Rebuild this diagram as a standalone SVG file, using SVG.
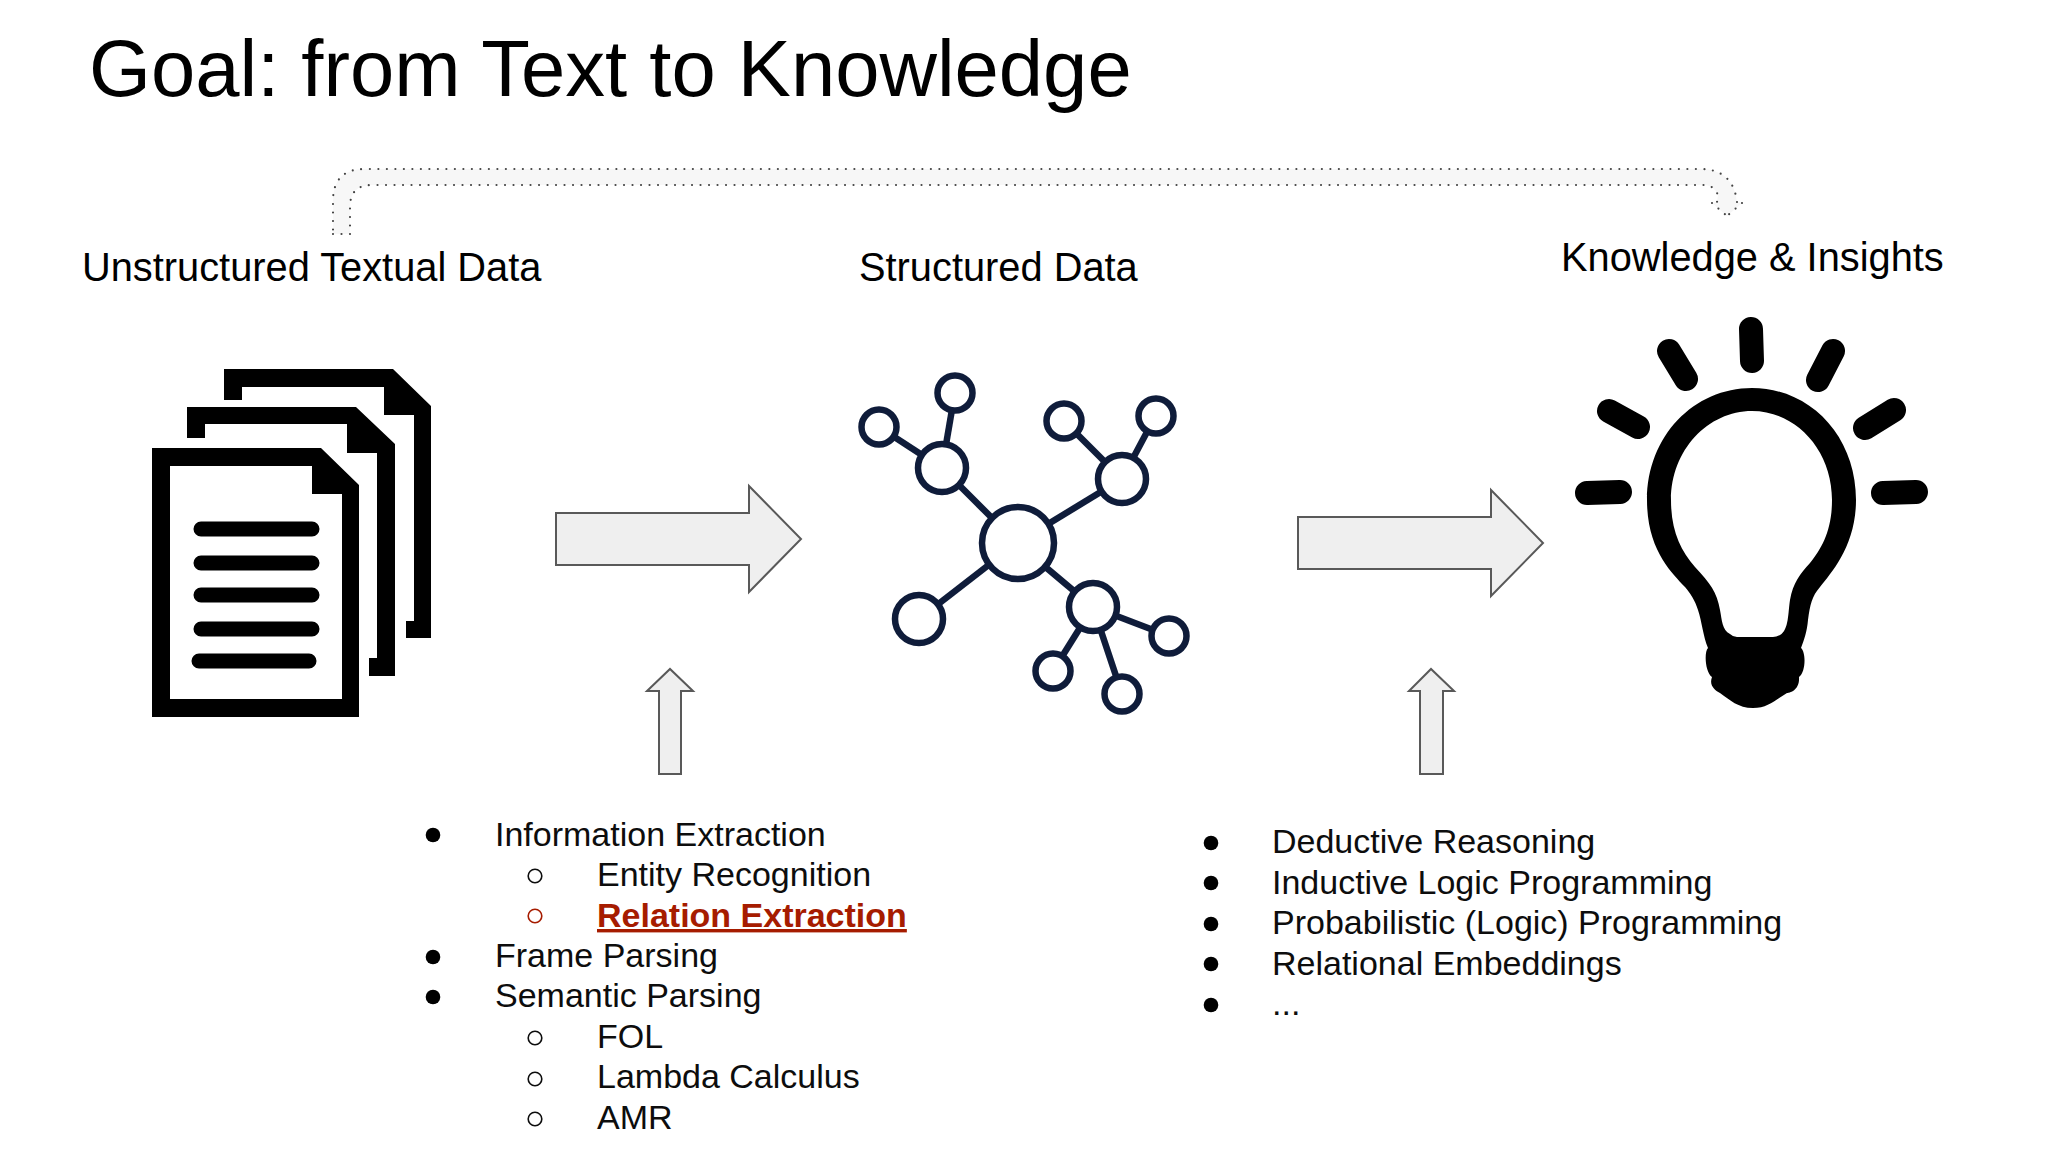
<svg xmlns="http://www.w3.org/2000/svg" width="2048" height="1152" viewBox="0 0 2048 1152">
<style>
text{font-family:"Liberation Sans",Arial,sans-serif;fill:#000}
.t{font-size:79.6px}
.h{font-size:39.8px}
.l{font-size:34px;fill:#0d0d0d}
.red{fill:#a61c00;font-weight:bold;text-decoration:underline}
.arrow{fill:#efefef;stroke:#595959;stroke-width:2;stroke-linejoin:miter}
.net circle{fill:#fff;stroke:#0f1c3a;stroke-width:6.5}
.net line{stroke:#0f1c3a;stroke-width:6.5}
.ray{stroke:#000;stroke-width:24;stroke-linecap:round}
.doc{stroke:#000;stroke-width:15;stroke-linecap:round}
.b{fill:#000}
.o{fill:none;stroke:#0d0d0d;stroke-width:1.6}
.dots{fill:none;stroke:#444;stroke-width:2.2;stroke-linecap:round;stroke-dasharray:0 8.5}
</style>
<rect width="2048" height="1152" fill="#fff"/>
<text class="t" x="89" y="96">Goal: from Text to Knowledge</text>
<g id="connectors">
<path d="M333 234H350V207Q350 185 372 185H1706Q1714 186 1718 195L1717 202L1712 203L1727 216L1742 203L1737 202Q1733 169 1700 169H365Q333 169 333 201Z" fill="#f7f7f7"/>
<path class="dots" d="M333 234H350V207Q350 185 372 185H1706Q1714 186 1718 195L1717 202M1712 203L1727 216M1742 203L1727 216M1737 202Q1733 169 1700 169H365Q333 169 333 201V234"/>
<path class="arrow" d="M556 513H749V486L801 539L749 592V565H556Z"/>
<path class="arrow" d="M1298 517H1491V490L1543 543L1491 596V569H1298Z"/>
<path class="arrow" d="M659 774V691H647L670 669L693 691H681V774Z"/>
<path class="arrow" d="M1420 774V691H1409L1431 669L1454 691H1443V774Z"/>
</g>
<g id="node-unstructured">
<text class="h" x="82" y="281">Unstructured Textual Data</text>
<path d="M224 369H393L431 406V638H406V621H414V415H384V387H242V400H224Z"/>
<path d="M187 407H356L395 444V676H369V658H377V453H347V424H205V438H187Z"/>
<path fill-rule="evenodd" d="M152 448H321L359 485V717H152ZM170 466V699H342V494H312V466Z"/>
<path class="doc" d="M201 529H312M201 563H312M201 595H312M201 629H312M199 661H309"/>
</g>
<g id="node-structured" class="net">
<text class="h" x="859" y="281">Structured Data</text>
<line x1="1017" y1="543" x2="942" y2="468"/><line x1="942" y1="468" x2="955" y2="392"/><line x1="942" y1="468" x2="879" y2="427"/>
<line x1="1017" y1="543" x2="1122" y2="479"/><line x1="1122" y1="479" x2="1064" y2="421"/><line x1="1122" y1="479" x2="1156" y2="415"/>
<line x1="1017" y1="543" x2="919" y2="619"/><line x1="1017" y1="543" x2="1093" y2="607"/>
<line x1="1093" y1="607" x2="1169" y2="636"/><line x1="1093" y1="607" x2="1053" y2="671"/><line x1="1093" y1="607" x2="1122" y2="694"/>
<circle cx="1018" cy="543" r="36"/>
<circle cx="942" cy="468" r="24"/><circle cx="1122" cy="479" r="24"/><circle cx="919" cy="619" r="24"/><circle cx="1093" cy="607" r="24"/>
<circle cx="955" cy="393" r="17.5"/><circle cx="879" cy="427" r="17.5"/><circle cx="1064" cy="421" r="17.5"/><circle cx="1156" cy="416" r="17.5"/><circle cx="1169" cy="636" r="17.5"/><circle cx="1053" cy="671" r="17.5"/><circle cx="1122" cy="694" r="17.5"/>
</g>
<g id="node-knowledge">
<text class="h" x="1561" y="271">Knowledge &amp; Insights</text>
<path class="ray" d="M1751 329L1752 361M1669 351L1686 379M1833 351L1818 380M1609 411L1638 427M1894 410L1865 428M1587 493L1620 492M1883 493L1916 492"/>
<path fill-rule="evenodd" d="M1708 648C1703 636 1702 622 1698 610C1695 600 1690 593 1685 587C1672 573 1647 550 1647 500C1647 436 1694 388 1752 388C1810 388 1856 436 1856 500C1856 545 1832 572 1820 587C1812 596 1810 605 1808 620C1807 632 1804 640 1801 648C1806 652 1806 672 1799 677C1800 690 1790 693 1787 693C1775 700 1768 708 1753 708C1738 708 1730 700 1720 693C1714 690 1709 685 1712 677C1705 672 1704 652 1708 648ZM1671 500C1671 530 1680 550 1695 567C1710 583 1717 592 1720 610C1722 620 1722 630 1730 634Q1733 637 1737 637H1773Q1776 637 1780 635C1789 630 1788 612 1790 600C1793 583 1800 574 1810 563C1822 548 1832 530 1832 500C1832 450 1796 411 1752 411C1708 411 1671 450 1671 500Z"/>
</g>
<g id="node-extraction-list">
<circle class="b" cx="433" cy="835" r="7.3"/><text class="l" x="495" y="846">Information Extraction</text>
<circle class="o" cx="535" cy="876" r="6.8"/><text class="l" x="597" y="886">Entity Recognition</text>
<circle class="o" style="stroke:#a61c00" cx="535" cy="916" r="6.8"/><text class="l red" x="597" y="927">Relation Extraction</text>
<circle class="b" cx="433" cy="957" r="7.3"/><text class="l" x="495" y="967">Frame Parsing</text>
<circle class="b" cx="433" cy="997" r="7.3"/><text class="l" x="495" y="1007">Semantic Parsing</text>
<circle class="o" cx="535" cy="1038" r="6.8"/><text class="l" x="597" y="1048">FOL</text>
<circle class="o" cx="535" cy="1079" r="6.8"/><text class="l" x="597" y="1088">Lambda Calculus</text>
<circle class="o" cx="535" cy="1119" r="6.8"/><text class="l" x="597" y="1129">AMR</text>
</g>
<g id="node-reasoning-list">
<circle class="b" cx="1211" cy="843" r="7.3"/><text class="l" x="1272" y="853">Deductive Reasoning</text>
<circle class="b" cx="1211" cy="883" r="7.3"/><text class="l" x="1272" y="894">Inductive Logic Programming</text>
<circle class="b" cx="1211" cy="924" r="7.3"/><text class="l" x="1272" y="934">Probabilistic (Logic) Programming</text>
<circle class="b" cx="1211" cy="964" r="7.3"/><text class="l" x="1272" y="975">Relational Embeddings</text>
<circle class="b" cx="1211" cy="1005" r="7.3"/><text class="l" x="1272" y="1015">...</text>
</g>
</svg>
